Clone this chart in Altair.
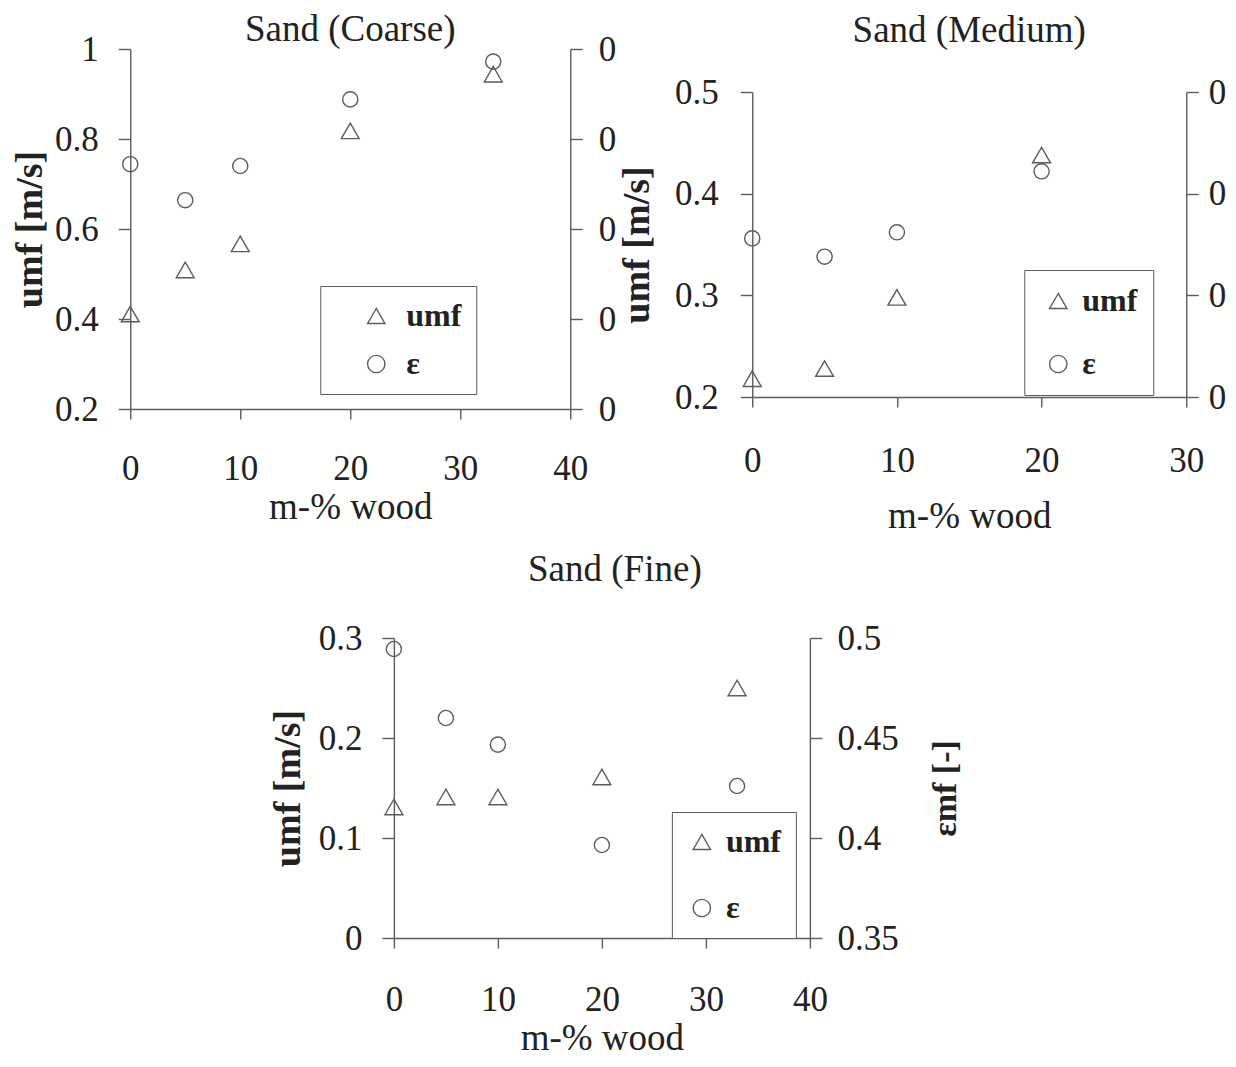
import altair as alt
import pandas as pd

# ---------------- data ----------------
series_names = ["umf", "ε"]
shape_range = ["triangle-up", "circle"]

wood_coarse = [0, 5, 10, 20, 33]
umf_coarse = [0.411, 0.509, 0.567, 0.818, 0.944]
eps_coarse = [0.436, 0.416, 0.435, 0.472, 0.493]

wood_medium = [0, 5, 10, 20]
umf_medium = [0.218, 0.228, 0.298, 0.438]
eps_medium = [0.428, 0.419, 0.431, 0.461]

wood_fine = [0, 5, 10, 20, 33]
umf_fine = [0.131, 0.141, 0.141, 0.161, 0.250]
eps_fine = [0.4945, 0.460, 0.4467, 0.3965, 0.426]

# axis ticks
x_ticks_40 = [0, 10, 20, 30, 40]
x_ticks_30 = [0, 10, 20, 30]
y_ticks_coarse = [0.2, 0.4, 0.6, 0.8, 1.0]
e_ticks_coarse = [0.30, 0.35, 0.40, 0.45, 0.50]
y_ticks_medium = [0.2, 0.3, 0.4, 0.5]
e_ticks_medium = [0.35, 0.40, 0.45, 0.50]
y_ticks_fine = [0.0, 0.1, 0.2, 0.3]
e_ticks_fine = [0.35, 0.40, 0.45, 0.50]

FONT = "Liberation Serif"
INK = "#222222"
GREY = "#5c5c5c"
LAB = 35
FMT = ".2~r"


def panel(title, wood, umf, eps, xdom, xticks, ydom, yticks, edom, eticks,
          w, h, top_gap, leg, right_full, right_title, t_offset, t_dx,
          x_lpad, x_tpad, y_lpad, y_tpad, r_lpad, r_tpad):
    n = len(wood)
    df = pd.DataFrame({
        "wood": list(wood) + list(wood),
        "value": list(umf) + list(eps),
        "series": [series_names[0]] * n + [series_names[1]] * n,
    })
    legend = alt.Legend(
        orient="none", legendX=leg["x"], legendY=leg["y"], title=None,
        direction="vertical", strokeColor=GREY, fillColor="white",
        padding=leg["pad"], rowPadding=leg["row"], symbolOffset=leg["soff"],
        labelOffset=leg["loff"], symbolSize=300, symbolStrokeColor=GREY,
        symbolFillColor="white", symbolStrokeWidth=1.4, labelFont=FONT,
        labelFontSize=32, labelFontWeight="bold", labelColor=INK,
    )
    shape = alt.Shape("series:N",
                      scale=alt.Scale(domain=series_names, range=shape_range),
                      legend=legend)
    x = alt.X("wood:Q", scale=alt.Scale(domain=xdom, nice=False, zero=False),
              axis=alt.Axis(values=xticks, title="m-% wood", format=FMT,
                            labelPadding=x_lpad, titlePadding=x_tpad,
                            tickSize=10))
    if top_gap:
        ysc = dict(range=[h, top_gap])
    else:
        ysc = {}
    base = alt.Chart(df)
    left = base.transform_filter(alt.datum.series == series_names[0]).mark_point(
        filled=False, size=320, strokeWidth=1.4, color=GREY, opacity=1
    ).encode(
        x=x,
        y=alt.Y("value:Q",
                scale=alt.Scale(domain=ydom, nice=False, zero=False, **ysc),
                axis=alt.Axis(orient="left", values=yticks, format=FMT,
                              title="umf [m/s]", titleFontWeight="bold",
                              titleFontSize=38, labelPadding=y_lpad,
                              titlePadding=y_tpad, tickSize=12)),
        shape=shape,
    )
    if right_full:
        r_axis = alt.Axis(orient="right", values=eticks, format=FMT,
                          title=right_title, titleFontWeight="bold",
                          titleFontSize=34, titleAngle=270, titleBaseline="top",
                          labelPadding=r_lpad, titlePadding=r_tpad, tickSize=12)
    else:
        r_axis = alt.Axis(orient="right", values=eticks, format=FMT,
                          labelExpr="substring(datum.label, 0, 1)",
                          title=None, labelPadding=r_lpad, tickSize=12)
    right = base.transform_filter(alt.datum.series == series_names[1]).mark_point(
        filled=False, size=230, strokeWidth=1.4, color=GREY, opacity=1
    ).encode(
        x=x,
        y=alt.Y("value:Q",
                scale=alt.Scale(domain=edom, nice=False, zero=False, **ysc),
                axis=r_axis),
        shape=shape,
    )
    return alt.layer(left, right).resolve_scale(y="independent").properties(
        width=w, height=h,
        title=alt.TitleParams(title, font=FONT, fontSize=37, fontWeight="normal",
                              color=INK, anchor="middle", frame="group",
                              offset=t_offset, dx=t_dx),
    )


coarse = panel(
    "Sand (Coarse)", wood_coarse, umf_coarse, eps_coarse,
    [0, 40], x_ticks_40, [0.2, 1.0], y_ticks_coarse, [0.3, 0.5], e_ticks_coarse,
    440, 360, 0,
    dict(x=190, y=237, pad=14, row=16, soff=26, loff=14),
    False, None, -16.5, 0,
    32, 3, 20, 5, 16, 0,
)

medium = panel(
    "Sand (Medium)", wood_medium, umf_medium, eps_medium,
    [0, 30], x_ticks_30, [0.2, 0.5], y_ticks_medium, [0.35, 0.5], e_ticks_medium,
    434, 348, 43,
    dict(x=272, y=221, pad=15, row=31, soff=3, loff=8),
    False, None, -0.5, 0,
    36, 20, 22, 18, 10, 0,
)

fine = panel(
    "Sand (Fine)", wood_fine, umf_fine, eps_fine,
    [0, 40], x_ticks_40, [0.0, 0.3], y_ticks_fine, [0.35, 0.5], e_ticks_fine,
    416, 300, 0,
    dict(x=278, y=174, pad=14, row=34, soff=0, loff=8),
    True, "εmf [-]", 32, 13,
    34, 3, 20, 11, 15, 30,
)

top = alt.hconcat(coarse, medium, spacing=2).resolve_scale(
    shape="independent").resolve_legend(shape="independent")
chart = alt.vconcat(top, fine, spacing=17, center=True).resolve_scale(
    shape="independent").resolve_legend(shape="independent").configure(
    padding={"left": 3, "top": 2, "right": 0, "bottom": 0}
).configure_view(
    stroke=None
).configure_axis(
    grid=False, domainColor=GREY, tickColor=GREY, domainWidth=1.4,
    tickWidth=1.4, labelFont=FONT, labelFontSize=LAB, labelColor=INK,
    titleFont=FONT, titleColor=INK, titleFontSize=37, titleFontWeight="normal",
    labelFlush=False, labelOverlap=False,
)

chart.save("out.html", embed_options={"renderer": "svg", "actions": False})
